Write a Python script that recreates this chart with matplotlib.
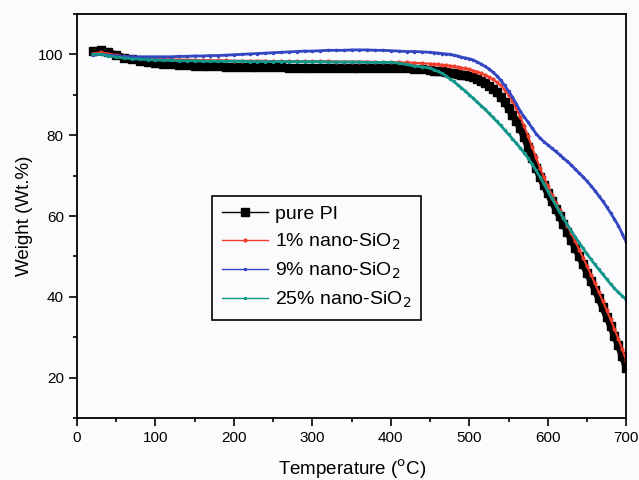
import matplotlib
matplotlib.use("Agg")
import matplotlib.pyplot as plt
from matplotlib.ticker import MultipleLocator

plt.rcParams['font.family'] = ['Liberation Sans', 'DejaVu Sans']

# temperature grid (degC): 10 deg steps up to 440, 5 deg steps after
temps = list(range(20, 450, 10)) + list(range(450, 705, 5))

# weight (%)
pure_pi = [100.8, 101.0, 100.6, 99.8, 99.2, 98.8, 98.4, 98.1, 97.9, 97.7,
           97.5, 97.4, 97.3, 97.2, 97.1, 97.0, 97.0, 96.9, 96.9, 96.9,
           96.8, 96.8, 96.8, 96.8, 96.8, 96.7, 96.7, 96.7, 96.7, 96.7,
           96.7, 96.7, 96.6, 96.6, 96.6, 96.6, 96.6, 96.6, 96.6, 96.5,
           96.5, 96.4, 96.3,
           96.1, 96.0, 95.9, 95.8, 95.7, 95.5, 95.3, 95.1, 94.9, 94.8,
           94.6, 94.3, 93.9, 93.4, 92.8, 92.2, 91.5, 90.6, 89.5, 88.2,
           86.7, 85.0, 83.5, 81.7, 79.5, 77.0, 74.4, 72.0, 69.7, 67.6,
           65.6, 63.7, 61.8, 59.9, 58.0, 56.1, 54.1, 52.1, 50.1, 48.1,
           46.0, 43.9, 41.8, 39.6, 37.4, 35.1, 32.8, 30.4, 28.0, 25.3,
           22.5]

sio2_1 = [100.2, 100.5, 100.2, 99.8, 99.5, 99.3, 99.1, 99.0, 98.9, 98.8,
          98.8, 98.7, 98.7, 98.6, 98.6, 98.5, 98.5, 98.5, 98.4, 98.4,
          98.4, 98.4, 98.4, 98.3, 98.3, 98.3, 98.3, 98.3, 98.3, 98.3,
          98.3, 98.2, 98.2, 98.2, 98.2, 98.2, 98.1, 98.1, 98.1, 98.0,
          98.0, 97.9, 97.8,
          97.7, 97.6, 97.5, 97.4, 97.3, 97.2, 97.0, 96.9, 96.7, 96.5,
          96.3, 96.0, 95.7, 95.3, 94.9, 94.4, 93.8, 93.1, 92.3, 91.2,
          90.0, 88.4, 86.6, 84.5, 82.2, 79.7, 77.1, 74.5, 72.0, 69.6,
          67.4, 65.3, 63.3, 61.4, 59.5, 57.6, 55.7, 53.7, 51.7, 49.7,
          47.6, 45.5, 43.4, 41.2, 39.0, 36.7, 34.4, 32.0, 29.6, 27.0,
          24.2]

sio2_9 = [99.8, 100.0, 99.8, 99.6, 99.5, 99.4, 99.4, 99.4, 99.4, 99.4,
          99.4, 99.5, 99.5, 99.6, 99.6, 99.7, 99.7, 99.8, 99.9, 100.0,
          100.1, 100.2, 100.3, 100.4, 100.5, 100.6, 100.7, 100.8, 100.8,
          100.9, 101.0, 101.0, 101.0, 101.1, 101.1, 101.1, 101.0, 101.0,
          100.9, 100.8, 100.7, 100.7, 100.6,
          100.5, 100.4, 100.3, 100.2, 100.1, 100.0, 99.8, 99.6, 99.3, 99.1,
          98.9, 98.6, 98.1, 97.6, 97.0, 96.4, 95.6, 94.7, 93.6, 92.3,
          90.9, 89.4, 87.7, 85.9, 84.5, 83.2, 81.8, 80.4, 79.3, 78.4,
          77.6, 76.8, 76.0, 75.2, 74.3, 73.5, 72.6, 71.6, 70.6, 69.7,
          68.6, 67.5, 66.3, 65.0, 63.7, 62.3, 60.8, 59.2, 57.6, 55.6,
          53.5]

sio2_25 = [100.0, 100.0, 99.6, 99.3, 99.1, 98.9, 98.8, 98.7, 98.6, 98.5,
           98.5, 98.4, 98.4, 98.4, 98.3, 98.3, 98.3, 98.3, 98.3, 98.3,
           98.2, 98.2, 98.2, 98.2, 98.2, 98.2, 98.2, 98.2, 98.2, 98.2,
           98.1, 98.1, 98.1, 98.1, 98.1, 98.0, 98.0, 98.0, 98.0, 97.8,
           97.5, 97.1, 96.9,
           96.6, 96.2, 95.8, 95.3, 94.7, 94.0, 93.3, 92.5, 91.7, 90.9,
           90.0, 89.1, 88.2, 87.3, 86.4, 85.4, 84.4, 83.4, 82.4, 81.3,
           80.2, 79.1, 78.0, 76.8, 75.6, 74.3, 72.8, 71.3, 69.7, 68.0,
           66.2, 64.4, 62.7, 61.0, 59.4, 57.8, 56.3, 54.8, 53.4, 52.0,
           50.6, 49.3, 48.0, 46.8, 45.6, 44.4, 43.2, 42.1, 41.1, 40.2,
           39.3]

labels = ['pure PI', '1% nano-SiO$_2$', '9% nano-SiO$_2$', '25% nano-SiO$_2$']
colors = ['black', '#f03c28', '#3346c2', '#12968a']

fig = plt.figure(figsize=(6.39, 4.8), dpi=100, facecolor='#fbfbfd')
ax = fig.add_axes([0.1205, 0.129, 0.8595, 0.842])
ax.set_facecolor('#fbfbfd')

# thick band under the square markers so the pure PI trace looks solid
ax.plot(temps, pure_pi, color=colors[0], lw=5, solid_capstyle='butt')
ax.plot(temps, pure_pi, color=colors[0], lw=1, marker='s', ms=6,
        label=labels[0])
ax.plot(temps, sio2_1, color=colors[1], lw=1.5, marker='o', ms=2,
        label=labels[1])
ax.plot(temps, sio2_9, color=colors[2], lw=2, marker='o', ms=1.5,
        label=labels[2])
ax.plot(temps, sio2_25, color=colors[3], lw=2, marker='o', ms=1.5,
        label=labels[3])

ax.set_xlim(0, 700)
ax.set_ylim(10, 110)
ax.xaxis.set_major_locator(MultipleLocator(100))
ax.xaxis.set_minor_locator(MultipleLocator(50))
ax.yaxis.set_minor_locator(MultipleLocator(10))
ax.set_yticks([20, 40, 60, 80, 100])
ax.tick_params(which='major', direction='out', length=6, width=1.2,
               labelsize=11, top=False, right=False)
ax.tick_params(which='minor', direction='out', length=3, width=1.2,
               top=False, right=False)
for s in ax.spines.values():
    s.set_linewidth(1.3)

ax.set_xlabel('Temperature ($^{\\rm o}$C)', fontsize=13.5, labelpad=9)
ax.set_ylabel('Weight (Wt.%)', fontsize=13.5, labelpad=4)

leg = ax.legend(loc='upper left', bbox_to_anchor=(0.246, 0.55),
                fontsize=14, numpoints=1, fancybox=False,
                edgecolor='black', handlelength=2.4, handletextpad=0.35,
                borderpad=0.5, borderaxespad=0, labelspacing=0.45,
                framealpha=1)
leg.get_frame().set_linewidth(1.2)
leg.get_frame().set_facecolor('#fbfbfd')
for ln in leg.get_lines():
    ln.set_linewidth(1)

fig.savefig('out.png', dpi=100, facecolor=fig.get_facecolor())
